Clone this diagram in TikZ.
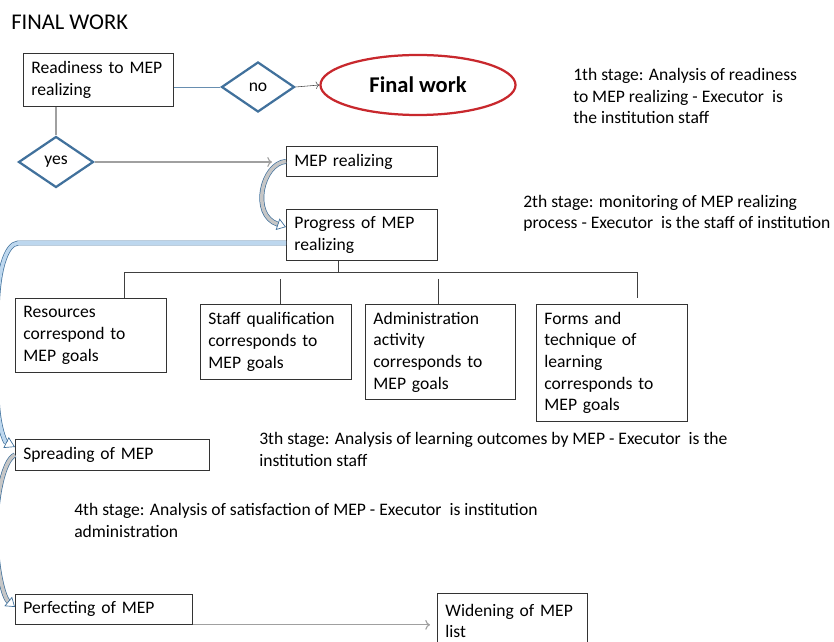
\documentclass[tikz,border=0pt]{standalone}
\usepackage{fontspec}
\setmainfont{Carlito}
\usetikzlibrary{shapes.geometric,arrows.meta}

\definecolor{shapeblue}{RGB}{65,113,156}
\definecolor{lightblue}{RGB}{189,215,238}
\definecolor{ovalred}{RGB}{200,40,45}
\definecolor{linegray}{RGB}{160,160,160}

\tikzset{
  box/.style={draw=black!80, line width=0.6pt, anchor=north west, align=left, inner xsep=0.2cm, inner ysep=0pt},
  decision/.style={diamond, draw=shapeblue, line width=1.6pt, inner sep=0pt},
  stage/.style={anchor=base west, align=left, inner sep=0pt},
  band/.style={draw=shapeblue, line width=0.5pt, double distance=2.5pt},
}

\begin{document}
\begin{tikzpicture}[x=0.025cm, y=-0.025cm, font=\fontsize{12.5}{15.4}\selectfont]
\useasboundingbox (0,0) rectangle (834,642);
\clip (0,0) rectangle (834,642);

\node[anchor=base west, inner sep=0pt, font=\fontsize{16}{19}\selectfont] (title) at (11,30) {FINAL WORK};

% first stage
\node[box, text width=3.35cm, minimum height=1.325cm] (ready) at (23,53) {Readiness to MEP\\realizing};
\node[decision, minimum width=1.825cm, minimum height=1.25cm] (no) at (258,87) {no};
\node[ellipse, draw=ovalred, line width=1.6pt, minimum width=4.875cm, minimum height=1.5cm, font=\fontsize{16}{19}\selectfont\bfseries] (final) at (418,85) {Final work};
\node[decision, minimum width=1.875cm, minimum height=1.275cm] (yes) at (56,162) {yes};
% (base of a stage text = its last line)
\node[stage] (st1) at (573,124) {1th stage: Analysis of readiness\\to MEP realizing - Executor\ \ is\\the institution staff};

% second stage
\node[box, text width=3.375cm, minimum height=0.75cm] (real) at (286,146) {MEP realizing};
\node[box, text width=3.375cm, minimum height=1.275cm] (prog) at (286,209) {Progress of MEP\\realizing};
\node[stage] (st2) at (523,229) {2th stage: monitoring of MEP realizing\\process - Executor\ \ is the staff of institution};

\node[box, text width=3.375cm, minimum height=1.85cm] (res) at (15,298) {Resources\\correspond to\\MEP goals};
\node[box, text width=3.375cm, minimum height=1.875cm] (staff) at (200,304) {Staff qualification\\corresponds to\\MEP goals};
\node[box, text width=3.35cm, minimum height=2.375cm] (admin) at (365,304) {Administration\\activity\\corresponds to\\MEP goals};
\node[box, text width=3.375cm, minimum height=2.925cm] (forms) at (536,304) {Forms and\\technique of\\learning\\corresponds to\\MEP goals};

% third and fourth stage
\node[box, text width=4.45cm, minimum height=0.775cm] (spread) at (15,439) {Spreading of MEP};
\node[stage] (st3) at (259,466) {3th stage: Analysis of learning outcomes by MEP - Executor\ \ is the\\institution staff};
\node[stage] (st4) at (74,537) {4th stage: Analysis of satisfaction of MEP - Executor\ \ is institution\\administration};
\node[box, text width=4.025cm, minimum height=0.75cm] (perf) at (15,594) {Perfecting of MEP};
\node[box, text width=3.35cm, minimum height=1.375cm] (widen) at (437,593) {Widening of MEP\\list};

% connectors
\draw[shapeblue!80, line width=0.5pt] (no.west -| ready.east) -- (no.west);
\draw[black!70, ->] (no.east) -- (final.west);
\draw[linegray, line width=0.8pt] (yes.north) -- (yes.north |- ready.south);
\draw[linegray, line width=0.8pt, ->, shorten >=0.35cm] (yes.east) -- (yes.east -| real.west);

\coordinate (fork) at (338,272);
\coordinate (tres) at (124,272);
\coordinate (tstaff) at (280,279);
\coordinate (tadmin) at (438,279);
\coordinate (tforms) at (637,272);
\coordinate (tformsend) at (637,298);
\draw[black!75] (fork |- prog.south) -- (fork);
\draw[black!75] (tres |- res.north) -- (tres) -- (tforms) -- (tformsend);
\draw[black!75] (tstaff) -- (tstaff |- staff.north);
\draw[black!75] (tadmin) -- (tadmin |- admin.north);

\draw[linegray, line width=0.8pt, ->, shorten >=0.175cm] (perf.south east) -- (perf.south east -| widen.west);

% curved block arrows
\draw[band, double=gray!45, -{Triangle[open, length=0.22cm, width=0.3cm]}] (real.west) .. controls (262,163) and (250,215) .. ([yshift=-0.45cm]prog.north west);
\draw[band, double=lightblue, -{Triangle[open, length=0.25cm, width=0.3cm]}] ([yshift=-0.85cm]prog.north west) -- (18,243) .. controls (6,244) and (-3,270) .. (-3,320) -- (-3,390) .. controls (-3,425) and (5,442) .. ([yshift=-0.2cm]spread.north west);
\draw[band, double=gray!45, -{Triangle[open, length=0.22cm, width=0.3cm]}] (spread.west) .. controls (3,460) and (-4,500) .. (-4,530) .. controls (-4,570) and (4,598) .. ([yshift=-0.325cm]perf.north west);
\end{tikzpicture}
\end{document}
